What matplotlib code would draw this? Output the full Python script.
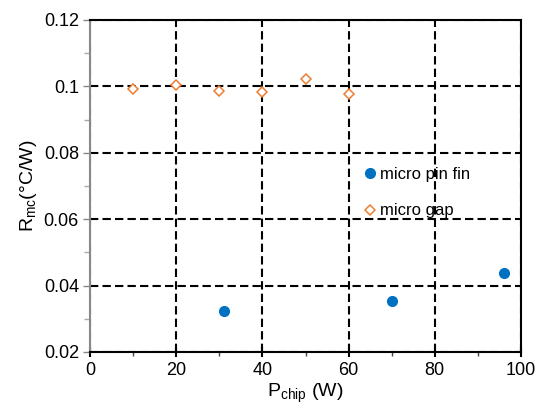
import matplotlib
matplotlib.use("Agg")
import matplotlib.pyplot as plt
from matplotlib.ticker import MultipleLocator, FuncFormatter

plt.rcParams['font.family'] = ['Liberation Sans', 'DejaVu Sans']
plt.rcParams['mathtext.fontset'] = 'custom'
plt.rcParams['mathtext.rm'] = 'Liberation Sans'
plt.rcParams['mathtext.it'] = 'Liberation Sans'

# data
pin_fin_p = [31, 70, 96]
pin_fin_r = [0.0323, 0.0355, 0.0437]

gap_p = [10, 20, 30, 40, 50, 60]
gap_r = [0.0991, 0.1004, 0.0987, 0.0983, 0.1021, 0.0976]

fig = plt.figure(figsize=(5.39, 4.17), dpi=100)
ax = fig.add_axes([90/539, 1 - 352/417, (521-90)/539, (352-20)/417])

ax.plot(pin_fin_p, pin_fin_r, 'o', color='#0070C0', markersize=7,
        linestyle='none', label='micro pin fin', zorder=3)
ax.plot(gap_p, gap_r, 'D', markerfacecolor='white', markeredgecolor='#ED7D31',
        markersize=5.5, markeredgewidth=1.1, linestyle='none', label='micro gap', zorder=3)

ax.set_xlim(0, 100)
ax.set_ylim(0.02, 0.12)
ax.xaxis.set_major_locator(MultipleLocator(20))
ax.xaxis.set_minor_locator(MultipleLocator(10))
ax.yaxis.set_major_locator(MultipleLocator(0.02))
ax.yaxis.set_minor_locator(MultipleLocator(0.01))
ax.yaxis.set_major_formatter(FuncFormatter(lambda v, p: '%g' % round(v, 3)))

ax.grid(True, which='major', color='black', linestyle=(0, (4, 2)), linewidth=1.5)
ax.set_axisbelow(True)

for side in ['top', 'right', 'bottom']:
    ax.spines[side].set_color('black')
    ax.spines[side].set_linewidth(1.5)
ax.spines['left'].set_color('#888888')
ax.spines['left'].set_linewidth(1.5)

ax.tick_params(axis='x', which='major', direction='inout', length=7, width=1.5,
               labelsize=13, pad=4, color='black')
ax.tick_params(axis='x', which='minor', direction='out', length=3, width=1, color='#444444')
ax.tick_params(axis='y', which='major', direction='out', length=5, width=1,
               labelsize=13, pad=3, color='#888888')
ax.tick_params(axis='y', which='minor', direction='out', length=4, width=1, color='#aaaaaa')

ax.set_xlabel(r'P$_{\mathrm{chip}}$ (W)', fontsize=14, labelpad=2)
ax.set_ylabel(r'R$_{\mathrm{mc}}$(°C/W)', fontsize=14, labelpad=3)

ax.legend(loc='upper left', bbox_to_anchor=(0.61, 0.578), frameon=False, fontsize=12,
          handletextpad=0.05, labelspacing=1.3, handlelength=1.2, borderaxespad=0)

fig.savefig('out.png', dpi=100)
